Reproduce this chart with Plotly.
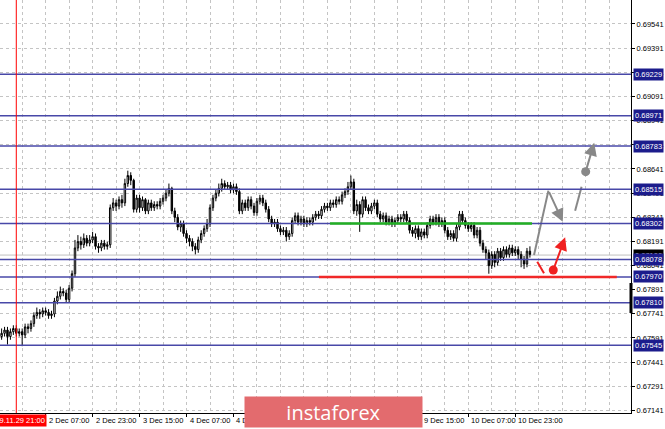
import plotly.graph_objects as go

# ---------------- data ----------------
# candle index: 0 = 29 Nov 21:00 (H1 candles, weekend skipped)
idx = list(range(-5, 176))

opens = [
    0.6760,0.6762,0.6764,0.6760,0.6763,0.6765,0.6762,0.6763,0.6761,0.6766,
    0.6765,0.6768,0.6773,0.6775,0.6774,0.6776,0.6775,0.6773,0.6774,0.6782,
    0.6785,0.6788,0.6787,0.6783,0.6790,0.6799,0.6815,0.6819,0.6817,0.6821,
    0.6818,0.6820,0.6822,0.6816,0.6815,0.6818,0.6816,0.6817,0.6840,0.6843,
    0.6841,0.6845,0.6843,0.6855,0.6860,0.6857,0.6839,0.6846,0.6840,0.6845,
    0.6838,0.6843,0.6840,0.6842,0.6841,0.6844,0.6846,0.6849,0.6852,0.6838,
    0.6834,0.6828,0.6830,0.6824,0.6821,0.6819,0.6816,0.6814,0.6820,0.6824,
    0.6827,0.6830,0.6840,0.6846,0.6849,0.6852,0.6855,0.6853,0.6854,0.6851,
    0.6853,0.6850,0.6838,0.6843,0.6840,0.6845,0.6841,0.6837,0.6844,0.6846,
    0.6843,0.6839,0.6833,0.6830,0.6831,0.6827,0.6825,0.6826,0.6822,0.6824,
    0.6832,0.6835,0.6831,0.6833,0.6830,0.6832,0.6831,0.6834,0.6836,0.6835,
    0.6839,0.6841,0.6840,0.6843,0.6842,0.6845,0.6844,0.6848,0.6850,0.6853,
    0.6856,0.6838,0.6842,0.6836,0.6845,0.6840,0.6838,0.6841,0.6843,0.6836,
    0.6833,0.6835,0.6831,0.6833,0.6830,0.6832,0.6834,0.6833,0.6836,0.6832,
    0.6826,0.6824,0.6827,0.6822,0.6825,0.6823,0.6829,0.6833,0.6831,0.6834,
    0.6830,0.6832,0.6826,0.6822,0.6824,0.6821,0.6828,0.6836,0.6832,0.6829,
    0.6827,0.6829,0.6823,0.6826,0.6818,0.6814,0.6812,0.6804,0.6811,0.6806,
    0.6813,0.6809,0.6814,0.6811,0.6815,0.6812,0.6814,0.6811,0.6808,0.6805,0.6813,
]
highs = [
    0.6765,0.6766,0.6766,0.6765,0.6767,0.6767,0.6765,0.6765,0.6768,0.6768,
    0.6770,0.6775,0.6778,0.6777,0.6778,0.6778,0.6777,0.6776,0.6784,0.6788,
    0.6791,0.6790,0.6789,0.6792,0.6801,0.6820,0.6823,0.6822,0.6824,0.6823,
    0.6823,0.6825,0.6824,0.6818,0.6820,0.6820,0.6819,0.6842,0.6846,0.6845,
    0.6847,0.6848,0.6858,0.6863,0.6862,0.6858,0.6848,0.6848,0.6847,0.6846,
    0.6845,0.6845,0.6844,0.6844,0.6846,0.6848,0.6851,0.6855,0.6853,0.6840,
    0.6836,0.6832,0.6832,0.6826,0.6823,0.6821,0.6818,0.6822,0.6826,0.6829,
    0.6833,0.6842,0.6848,0.6851,0.6855,0.6858,0.6857,0.6856,0.6856,0.6855,
    0.6855,0.6852,0.6845,0.6845,0.6847,0.6847,0.6843,0.6846,0.6848,0.6848,
    0.6845,0.6841,0.6835,0.6833,0.6833,0.6829,0.6828,0.6828,0.6826,0.6834,
    0.6837,0.6837,0.6835,0.6835,0.6834,0.6834,0.6836,0.6838,0.6838,0.6841,
    0.6843,0.6843,0.6845,0.6845,0.6847,0.6847,0.6850,0.6852,0.6856,0.6860,
    0.6858,0.6845,0.6844,0.6847,0.6847,0.6842,0.6843,0.6845,0.6845,0.6838,
    0.6837,0.6837,0.6835,0.6835,0.6834,0.6836,0.6836,0.6838,0.6838,0.6834,
    0.6828,0.6829,0.6829,0.6827,0.6827,0.6831,0.6835,0.6835,0.6836,0.6836,
    0.6834,0.6834,0.6828,0.6826,0.6826,0.6830,0.6838,0.6838,0.6834,0.6831,
    0.6831,0.6831,0.6828,0.6828,0.6820,0.6816,0.6814,0.6813,0.6813,0.6815,
    0.6815,0.6816,0.6816,0.6817,0.6817,0.6816,0.6816,0.6813,0.6810,0.6815,0.6816,
]
lows = [
    0.6758,0.6760,0.6755,0.6758,0.6761,0.6760,0.6760,0.6754,0.6759,0.6762,
    0.6763,0.6766,0.6771,0.6771,0.6772,0.6773,0.6771,0.6771,0.6772,0.6780,
    0.6783,0.6785,0.6781,0.6781,0.6788,0.6797,0.6813,0.6814,0.6815,0.6816,
    0.6816,0.6818,0.6814,0.6812,0.6813,0.6814,0.6814,0.6815,0.6838,0.6838,
    0.6839,0.6840,0.6841,0.6853,0.6854,0.6837,0.6837,0.6837,0.6838,0.6836,
    0.6836,0.6838,0.6838,0.6839,0.6839,0.6842,0.6844,0.6847,0.6836,0.6831,
    0.6826,0.6825,0.6822,0.6818,0.6816,0.6813,0.6811,0.6812,0.6818,0.6822,
    0.6825,0.6828,0.6838,0.6844,0.6847,0.6850,0.6851,0.6851,0.6849,0.6849,
    0.6848,0.6836,0.6836,0.6838,0.6838,0.6839,0.6835,0.6835,0.6842,0.6841,
    0.6837,0.6831,0.6828,0.6828,0.6825,0.6823,0.6823,0.6819,0.6820,0.6822,
    0.6830,0.6829,0.6829,0.6828,0.6828,0.6829,0.6829,0.6832,0.6833,0.6833,
    0.6837,0.6838,0.6838,0.6840,0.6840,0.6842,0.6842,0.6846,0.6848,0.6851,
    0.6836,0.6835,0.6825,0.6834,0.6838,0.6836,0.6836,0.6839,0.6834,0.6831,
    0.6831,0.6829,0.6829,0.6828,0.6828,0.6830,0.6831,0.6831,0.6830,0.6824,
    0.6822,0.6821,0.6820,0.6820,0.6821,0.6821,0.6827,0.6829,0.6829,0.6828,
    0.6828,0.6824,0.6820,0.6820,0.6819,0.6819,0.6826,0.6830,0.6827,0.6825,
    0.6825,0.6821,0.6821,0.6816,0.6812,0.6808,0.6799,0.6802,0.6803,0.6804,
    0.6807,0.6807,0.6809,0.6809,0.6810,0.6810,0.6808,0.6803,0.6802,0.6803,0.6809,
]
closes = [
    0.6762,0.6764,0.6760,0.6763,0.6765,0.6762,0.6763,0.6761,0.6766,0.6765,
    0.6768,0.6773,0.6775,0.6774,0.6776,0.6775,0.6773,0.6774,0.6782,0.6785,
    0.6788,0.6787,0.6783,0.6790,0.6799,0.6815,0.6819,0.6817,0.6821,0.6818,
    0.6820,0.6822,0.6816,0.6815,0.6818,0.6816,0.6817,0.6840,0.6843,0.6841,
    0.6845,0.6843,0.6855,0.6860,0.6857,0.6839,0.6846,0.6840,0.6845,0.6838,
    0.6843,0.6840,0.6842,0.6841,0.6844,0.6846,0.6849,0.6852,0.6838,0.6834,
    0.6828,0.6830,0.6824,0.6821,0.6819,0.6816,0.6814,0.6820,0.6824,0.6827,
    0.6830,0.6840,0.6846,0.6849,0.6852,0.6855,0.6853,0.6854,0.6851,0.6853,
    0.6850,0.6838,0.6843,0.6840,0.6845,0.6841,0.6837,0.6844,0.6846,0.6843,
    0.6839,0.6833,0.6830,0.6831,0.6827,0.6825,0.6826,0.6822,0.6824,0.6832,
    0.6835,0.6831,0.6833,0.6830,0.6832,0.6831,0.6834,0.6836,0.6835,0.6839,
    0.6841,0.6840,0.6843,0.6842,0.6845,0.6844,0.6848,0.6850,0.6853,0.6856,
    0.6838,0.6842,0.6836,0.6845,0.6840,0.6838,0.6841,0.6843,0.6836,0.6833,
    0.6835,0.6831,0.6833,0.6830,0.6832,0.6834,0.6833,0.6836,0.6832,0.6826,
    0.6824,0.6827,0.6822,0.6825,0.6823,0.6829,0.6833,0.6831,0.6834,0.6830,
    0.6832,0.6826,0.6822,0.6824,0.6821,0.6828,0.6836,0.6832,0.6829,0.6827,
    0.6829,0.6823,0.6826,0.6818,0.6814,0.6812,0.6804,0.6811,0.6806,0.6813,
    0.6809,0.6814,0.6811,0.6815,0.6812,0.6814,0.6811,0.6808,0.6805,0.6813,0.6811,
]

# price scale ticks (right axis)
price_ticks = [0.69541, 0.69391, 0.69241, 0.69091, 0.68941, 0.68791, 0.68641,
               0.68491, 0.68341, 0.68191, 0.68041, 0.67891, 0.67741, 0.67591,
               0.67441, 0.67291, 0.67141]
# horizontal support / resistance levels
levels = [0.69229, 0.68971, 0.68783, 0.68515, 0.68302, 0.68078, 0.67970,
          0.67810, 0.67545]
bid_price = 0.68106

# time axis labels (candle index, text)
time_idx = [10, 26, 42, 58, 74, 90, 106, 122, 138, 154, 170]
time_text = ["2 Dec 07:00", "2 Dec 23:00", "3 Dec 15:00", "4 Dec 07:00",
             "4 Dec 23:00", "5 Dec 15:00", "6 Dec 07:00", "6 Dec 23:00",
             "9 Dec 15:00", "10 Dec 07:00", "10 Dec 23:00"]
marker_idx = 0
marker_text = "2019.11.29 21:00"

# drawn analysis objects (candle index, price)
green_level = (106.9, 175.7, 0.68302)
red_level = (103.1, 204.6, 0.67970)
gray_path_x = [176.4, 181.3]
gray_path_y = [0.68106, 0.68506]
gray_arrow1 = (181.3, 0.68506, 186.2, 0.68313)
gray_dash_x = [190.4, 192.6]
gray_dash_y = [0.68381, 0.68530]
gray_dot = (194.0, 0.68624)
gray_arrow2 = (194.0, 0.68624, 196.9, 0.68804)
red_dash_x = [177.5, 179.8]
red_dash_y = [0.68065, 0.67993]
red_dot = (182.96, 0.68013)
red_arrow = (182.96, 0.68013, 187.0, 0.68216)

# ---------------- figure ----------------
W, H = 665, 429
ML, MR, MT, MB = 0, 34, 0, 16
XR = [-5.55, 209.44]
YR = [0.67125, 0.69690]
NAVY_LINE = "#4848a8"
NAVY_BOX = "#1c1c8c"
GRID = "#c4c4c4"
FONT = "Liberation Sans"
FS = 7.5

fig = go.Figure()

fig.add_trace(go.Candlestick(
    x=idx, open=opens, high=highs, low=lows, close=closes,
    increasing=dict(line=dict(color="#000000", width=1), fillcolor="#ffffff"),
    decreasing=dict(line=dict(color="#000000", width=1), fillcolor="#000000"),
    whiskerwidth=0, showlegend=False, hoverinfo="skip",
))

shapes = []
# bid line
shapes.append(dict(type="line", xref="paper", x0=0, x1=1, yref="y", y0=bid_price, y1=bid_price,
                   line=dict(color="#c0c0c0", width=1), layer="below"))
for lv in levels:
    shapes.append(dict(type="line", xref="paper", x0=0, x1=1, yref="y", y0=lv, y1=lv,
                       line=dict(color=NAVY_LINE, width=1.5), layer="above"))
# red vertical line
shapes.append(dict(type="line", xref="x", x0=marker_idx, x1=marker_idx, yref="paper", y0=0, y1=1,
                   line=dict(color="#ff0000", width=1)))
# green and red horizontal segments
shapes.append(dict(type="line", xref="x", x0=green_level[0], x1=green_level[1], yref="y",
                   y0=green_level[2], y1=green_level[2], line=dict(color="#22b022", width=2.5)))
shapes.append(dict(type="line", xref="x", x0=red_level[0], x1=red_level[1], yref="y",
                   y0=red_level[2], y1=red_level[2], line=dict(color="#f02828", width=2.5)))
# axis scroll marker
shapes.append(dict(type="line", xref="paper", x0=1, x1=1, yref="paper",
                   y0=(413 - 313) / 413, y1=(413 - 283) / 413,
                   line=dict(color="#000000", width=3)))
fig.update_layout(shapes=shapes)

# drawn lines
fig.add_trace(go.Scatter(x=gray_path_x, y=gray_path_y, mode="lines",
                         line=dict(color="#888888", width=2), showlegend=False, hoverinfo="skip"))
fig.add_trace(go.Scatter(x=gray_dash_x, y=gray_dash_y, mode="lines",
                         line=dict(color="#888888", width=2), showlegend=False, hoverinfo="skip"))
fig.add_trace(go.Scatter(x=[gray_dot[0]], y=[gray_dot[1]], mode="markers",
                         marker=dict(color="#888888", size=9), showlegend=False, hoverinfo="skip"))
fig.add_trace(go.Scatter(x=red_dash_x, y=red_dash_y, mode="lines",
                         line=dict(color="#f02020", width=2), showlegend=False, hoverinfo="skip"))
fig.add_trace(go.Scatter(x=[red_dot[0]], y=[red_dot[1]], mode="markers",
                         marker=dict(color="#f02020", size=9), showlegend=False, hoverinfo="skip"))

ann = []
def arrow(a, color):
    return dict(x=a[2], y=a[3], ax=a[0], ay=a[1], xref="x", yref="y", axref="x", ayref="y",
                showarrow=True, arrowhead=2, arrowsize=1.3, arrowwidth=2, arrowcolor=color, text="")
ann.append(arrow(gray_arrow1, "#888888"))
ann.append(arrow(gray_arrow2, "#888888"))
ann.append(arrow(red_arrow, "#f02020"))

# time labels
for t, s in zip(time_idx, time_text):
    ann.append(dict(x=t, y=0, xref="x", yref="paper", text=s, showarrow=False,
                    xanchor="left", yanchor="top", xshift=1, yshift=-1,
                    font=dict(family=FONT, size=FS, color="#000000")))
ann.append(dict(x=marker_idx, y=0, xref="x", yref="paper", text=marker_text, showarrow=False,
                xanchor="center", yanchor="top", yshift=-1, bgcolor="#ff0000", borderpad=1,
                font=dict(family=FONT, size=FS, color="#ffffff")))

# current price label (black) then level labels
ann.append(dict(x=1, y=bid_price, xref="paper", yref="y", text=f"{bid_price:.5f}", showarrow=False,
                xanchor="left", xshift=2, bgcolor="#000000", borderpad=1,
                font=dict(family=FONT, size=FS, color="#ffffff")))
for lv in levels:
    ann.append(dict(x=1, y=lv, xref="paper", yref="y", text=f"{lv:.5f}", showarrow=False,
                    xanchor="left", xshift=2, bgcolor=NAVY_BOX, borderpad=1,
                    font=dict(family=FONT, size=FS, color="#ffffff")))

# watermark
ann.append(dict(x=333.5 / 631, y=(413 - 412) / 413, xref="paper", yref="paper", text="instaforex",
                showarrow=False, xanchor="center", yanchor="middle", width=177, height=30,
                bgcolor="#e36b6e", borderpad=0,
                font=dict(family="Open Sans", size=20, color="#ffffff")))

fig.update_layout(
    annotations=ann,
    width=W, height=H,
    margin=dict(l=ML, r=MR, t=MT, b=MB, pad=0, autoexpand=False),
    paper_bgcolor="#ffffff", plot_bgcolor="#ffffff",
    xaxis=dict(range=XR, rangeslider=dict(visible=False), showline=True, linecolor="#000000",
               linewidth=1, tickmode="array", tickvals=time_idx, showticklabels=False,
               ticks="outside", ticklen=3, tickcolor="#000000", automargin=False,
               showgrid=True, gridcolor=GRID, griddash="dot", gridwidth=1,
               minor=dict(tick0=2, dtick=8, showgrid=True, gridcolor=GRID, griddash="dot", ticks=""),
               zeroline=False, fixedrange=True),
    yaxis=dict(range=YR, side="right", showline=True, linecolor="#000000", linewidth=1,
               tickmode="array", tickvals=price_ticks, ticktext=[f"{p:.5f}" for p in price_ticks],
               ticks="outside", ticklen=3, tickcolor="#000000", automargin=False,
               tickfont=dict(family=FONT, size=FS, color="#000000"),
               showgrid=True, gridcolor=GRID, griddash="dot", gridwidth=1,
               zeroline=False, fixedrange=True),
    showlegend=False,
)

fig.write_html("out.html", config={"displayModeBar": False},
               post_script="document.body.style.margin='0px';document.body.style.padding='0px';")
